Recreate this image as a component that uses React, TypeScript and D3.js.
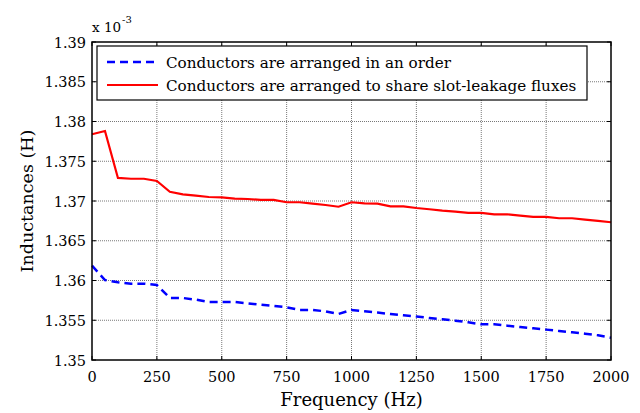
import React, { useRef, useEffect } from "react";
import * as d3 from "d3";

// frequency points (Hz)
const freqs = d3.range(0, 2001, 50);

// inductance (H), conductors arranged in an order
const orderedL = [
  1.36186, 1.36006, 1.35977, 1.3596, 1.3596, 1.35943, 1.3578, 1.3578, 1.35759, 1.3573,
  1.3573, 1.3573, 1.35713, 1.35696, 1.3568, 1.35663, 1.35629, 1.35629, 1.35612, 1.35579,
  1.35629, 1.35612, 1.35596, 1.35579, 1.35562, 1.35546, 1.35529, 1.35512, 1.35495, 1.35474,
  1.35449, 1.35449, 1.35432, 1.35415, 1.35399, 1.35382, 1.35365, 1.35348, 1.35331, 1.35311,
  1.35281,
].map((v) => v * 1e-3);

// inductance (H), conductors arranged to share slot-leakage fluxes
const sharedL = [
  1.3784, 1.3788, 1.3729, 1.3728, 1.3728, 1.37252, 1.37116, 1.37084, 1.37067, 1.3705,
  1.37046, 1.37029, 1.37025, 1.37013, 1.37013, 1.36984, 1.36984, 1.36967, 1.3695, 1.36928,
  1.36984, 1.3697, 1.36967, 1.36933, 1.36933, 1.36912, 1.36896, 1.36878, 1.36866, 1.3685,
  1.3685, 1.36833, 1.36833, 1.36816, 1.368, 1.368, 1.36783, 1.36783, 1.36766, 1.3675,
  1.36733,
].map((v) => v * 1e-3);

const xTicks = [0, 250, 500, 750, 1000, 1250, 1500, 1750, 2000];
const yTicks = [1.35, 1.355, 1.36, 1.365, 1.37, 1.375, 1.38, 1.385, 1.39];

const seriesNames = [
  "Conductors are arranged in an order",
  "Conductors are arranged to share slot-leakage fluxes",
];

const FONT = "'DejaVu Serif', serif";

const App = () => {
  const svgRef = useRef<SVGSVGElement>(null);

  useEffect(() => {
    const svg = d3.select(svgRef.current);
    svg.selectAll("*").remove();

    const margin = { top: 42, right: 29, bottom: 53, left: 92 };
    const width = 640 - margin.left - margin.right;
    const height = 413 - margin.top - margin.bottom;

    const x = d3.scaleLinear().domain([0, 2000]).range([0, width]);
    const y = d3.scaleLinear().domain([1.35, 1.39]).range([height, 0]);

    const g = svg.append("g").attr("transform", `translate(${margin.left},${margin.top})`);

    // grid
    g.append("g")
      .selectAll("line")
      .data(xTicks.slice(1, -1))
      .join("line")
      .attr("x1", (d) => x(d))
      .attr("x2", (d) => x(d))
      .attr("y1", 0)
      .attr("y2", height)
      .attr("stroke", "#555")
      .attr("stroke-width", 0.8)
      .attr("stroke-dasharray", "1,1");
    g.append("g")
      .selectAll("line")
      .data(yTicks.slice(1, -1))
      .join("line")
      .attr("x1", 0)
      .attr("x2", width)
      .attr("y1", (d) => y(d))
      .attr("y2", (d) => y(d))
      .attr("stroke", "#555")
      .attr("stroke-width", 0.8)
      .attr("stroke-dasharray", "1,1");

    // ticks pointing inwards on all sides
    const tickLen = 4;
    const ticks = g.append("g").attr("stroke", "#000").attr("stroke-width", 1);
    xTicks.forEach((t) => {
      ticks.append("line").attr("x1", x(t)).attr("x2", x(t)).attr("y1", height).attr("y2", height - tickLen);
      ticks.append("line").attr("x1", x(t)).attr("x2", x(t)).attr("y1", 0).attr("y2", tickLen);
    });
    yTicks.forEach((t) => {
      ticks.append("line").attr("x1", 0).attr("x2", tickLen).attr("y1", y(t)).attr("y2", y(t));
      ticks.append("line").attr("x1", width).attr("x2", width - tickLen).attr("y1", y(t)).attr("y2", y(t));
    });

    // tick labels
    g.append("g")
      .selectAll("text")
      .data(xTicks)
      .join("text")
      .attr("x", (d) => x(d))
      .attr("y", height + 22)
      .attr("text-anchor", "middle")
      .attr("font-family", FONT)
      .attr("font-size", 14.5)
      .text((d) => d);
    g.append("g")
      .selectAll("text")
      .data(yTicks)
      .join("text")
      .attr("x", -6)
      .attr("y", (d) => y(d) + 5.5)
      .attr("text-anchor", "end")
      .attr("font-family", FONT)
      .attr("font-size", 14.5)
      .text((d) => d3.format("")(+d.toFixed(3)));

    // exponent label
    const exp = g.append("text").attr("x", 0).attr("y", -10).attr("font-family", FONT).attr("font-size", 13.5);
    exp.append("tspan").text("x 10");
    exp.append("tspan").attr("dy", -9).attr("dx", 1).attr("font-size", 10).text("-3");

    // axis titles
    g.append("text")
      .attr("x", width / 2)
      .attr("y", height + 46)
      .attr("text-anchor", "middle")
      .attr("font-family", FONT)
      .attr("font-size", 18)
      .text("Frequency (Hz)");
    g.append("text")
      .attr("transform", `translate(${-59},${height / 2}) rotate(-90)`)
      .attr("text-anchor", "middle")
      .attr("font-family", FONT)
      .attr("font-size", 17.5)
      .text("Inductances (H)");

    // lines
    const line = d3
      .line<number>()
      .x((_, i) => x(freqs[i]))
      .y((d) => y(d * 1e3));

    g.append("path")
      .datum(orderedL)
      .attr("fill", "none")
      .attr("stroke", "#0000ff")
      .attr("stroke-width", 2.5)
      .attr("stroke-dasharray", "8,5")
      .attr("d", line);
    g.append("path")
      .datum(sharedL)
      .attr("fill", "none")
      .attr("stroke", "#ff0000")
      .attr("stroke-width", 2.2)
      .attr("d", line);

    // axes box
    g.append("rect")
      .attr("width", width)
      .attr("height", height)
      .attr("fill", "none")
      .attr("stroke", "#000")
      .attr("stroke-width", 1.5);

    // legend
    const lg = g.append("g").attr("transform", "translate(5,4)");
    lg.append("rect")
      .attr("width", 490)
      .attr("height", 54)
      .attr("fill", "#fff")
      .attr("stroke", "#000")
      .attr("stroke-width", 1.2);
    const styles = [
      { color: "#0000ff", dash: "8,5", w: 2.5 },
      { color: "#ff0000", dash: null, w: 2.2 },
    ];
    seriesNames.forEach((name, i) => {
      const ly = 16 + i * 23;
      lg.append("line")
        .attr("x1", 10)
        .attr("x2", 61)
        .attr("y1", ly)
        .attr("y2", ly)
        .attr("stroke", styles[i].color)
        .attr("stroke-width", styles[i].w)
        .attr("stroke-dasharray", styles[i].dash);
      lg.append("text")
        .attr("x", 69)
        .attr("y", ly + 5.5)
        .attr("font-family", FONT)
        .attr("font-size", 15.2)
        .text(name);
    });
  }, []);

  return <svg ref={svgRef} width={640} height={413} style={{ display: "block", position: "absolute", left: 0, top: 0 }}></svg>;
};

export default App;
